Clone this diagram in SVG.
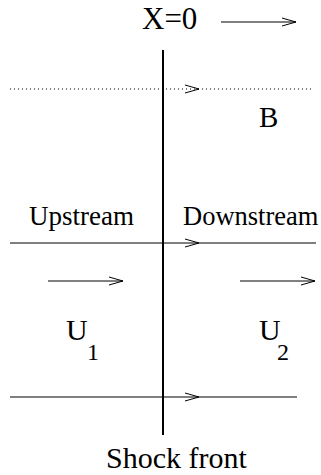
<svg xmlns="http://www.w3.org/2000/svg" width="321" height="475" viewBox="0 0 321 475">
<style>
.t{font-family:'Liberation Serif','DejaVu Serif',serif;fill:#000}
.l{stroke:#000;stroke-width:1;fill:none}
.h{stroke:#000;stroke-width:1;fill:none}
</style>
<rect width="321" height="475" fill="#fff"/>
<g id="shock">
<line x1="163" y1="50" x2="163" y2="435" stroke="#000" stroke-width="2"/>
</g>
<g id="connectors">
<line class="l" x1="221" y1="22" x2="296" y2="22"/>
<polyline class="h" points="282,18 296,22 282,26"/>
<line class="l" x1="10" y1="89" x2="313" y2="89" stroke-dasharray="1,3" stroke="#555"/>
<polyline class="h" points="185,85 199,89 185,93"/>
<line class="l" x1="10" y1="243" x2="316" y2="243"/>
<polyline class="h" points="185,239 199,243 185,247"/>
<line class="l" x1="48" y1="281" x2="123" y2="281"/>
<polyline class="h" points="109,277 123,281 109,285"/>
<line class="l" x1="240" y1="281" x2="315" y2="281"/>
<polyline class="h" points="301,277 315,281 301,285"/>
<line class="l" x1="10" y1="397" x2="297" y2="397" stroke="#555"/>
<polyline class="h" points="185,393 199,397 185,401"/>
</g>
<g id="labels">
<text class="t" x="142" y="29" font-size="31">X=0</text>
<text class="t" x="259" y="127" font-size="29">B</text>
<text class="t" x="29" y="225" font-size="27">Upstream</text>
<text class="t" x="183" y="225" font-size="26.5">Downstream</text>
<text class="t" x="66" y="340" font-size="30">U</text>
<text class="t" x="87" y="360" font-size="24">1</text>
<text class="t" x="259" y="340" font-size="30">U</text>
<text class="t" x="277" y="360" font-size="24">2</text>
<text class="t" x="106" y="468" font-size="30">Shock front</text>
</g>
</svg>
